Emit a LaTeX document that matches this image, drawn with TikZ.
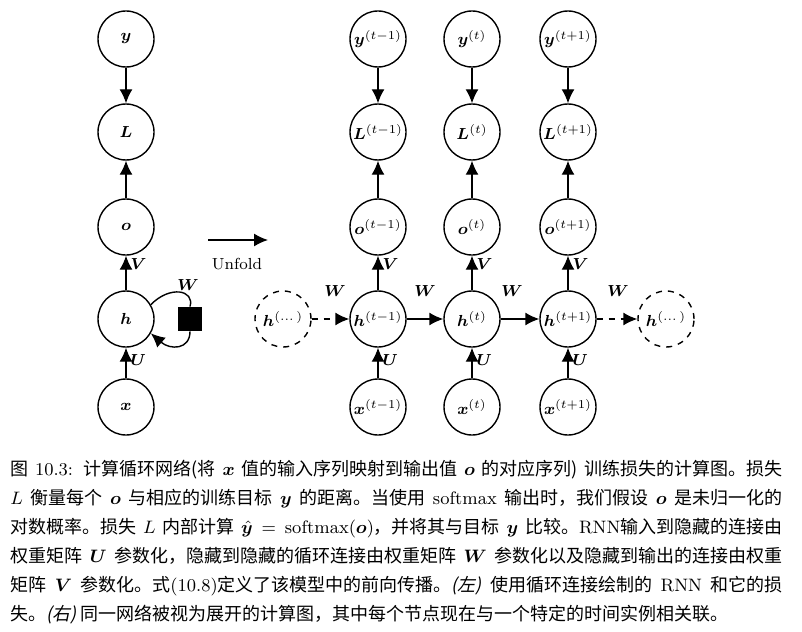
\documentclass[tikz,border=0pt]{standalone}
\usepackage{amsmath,bm}
\usepackage{fontspec}
\newfontfamily\zh{Noto Sans CJK SC}
\newfontfamily\zhit{Noto Sans CJK SC}[FakeSlant=0.2]
\newcommand\lmr[1]{{\fontfamily{lmr}\selectfont #1}}
\newcommand\capline[1]{\makebox[386pt][s]{#1}}
\usetikzlibrary{arrows.meta}
\begin{document}
\begin{tikzpicture}[x=0.5pt,y=-0.5pt,
  nd/.style={circle,draw,line width=0.7pt,minimum size=28pt,inner sep=0pt,font=\footnotesize},
  dnd/.style={nd,dashed},
  ar/.style={line width=0.7pt,-{Latex[length=7pt,width=6.5pt]}},
  lab/.style={font=\small}]
\useasboundingbox (0,0) rectangle (802,631);
% left
\node[nd] (y) at (126,39) {$\bm{y}$};
\node[nd] (L) at (126,132) {$\bm{L}$};
\node[nd] (o) at (126,227) {$\bm{o}$};
\node[nd] (h) at (126,319) {$\bm{h}$};
\node[nd] (x) at (126,407) {$\bm{x}$};
\draw[ar] (y) -- (L);
\draw[ar] (o) -- (L);
\draw[ar] (h) -- node[right,pos=0.75,inner sep=2pt,font=\footnotesize]{$\bm{V}$} (o);
\draw[ar] (x) -- node[right,pos=0.6,inner sep=2pt,font=\footnotesize]{$\bm{U}$} (h);
\node[fill=black,minimum size=12pt,inner sep=0pt] (sq) at (190,319) {};
\draw[line width=0.7pt] (h.30) .. controls (170,285) and (195,290) .. (sq.north);
\draw[ar] (sq.south) .. controls (190,350) and (170,350) .. (h.-30);
\node[font=\footnotesize] at (188,285) {$\bm{W}$};
% unfold
\coordinate (ua) at (208,240); \coordinate (ub) at (268,240);
\draw[ar] (ua) -- (ub);
\node[font=\footnotesize] at (237,264) {Unfold};
% right
\foreach \c/\xx/\s in {a/378/{t-1},b/472/{t},c/568/{t+1}}{
  \node[nd] (y\c) at (\xx,39) {$\bm{y}^{(\s)}$};
  \node[nd] (L\c) at (\xx,132) {$\bm{L}^{(\s)}$};
  \node[nd] (o\c) at (\xx,227) {$\bm{o}^{(\s)}$};
  \node[nd] (h\c) at (\xx,319) {$\bm{h}^{(\s)}$};
  \node[nd] (x\c) at (\xx,407) {$\bm{x}^{(\s)}$};
  \draw[ar] (y\c) -- (L\c);
  \draw[ar] (o\c) -- (L\c);
  \draw[ar] (h\c) -- node[right,pos=0.75,inner sep=2pt,font=\footnotesize]{$\bm{V}$} (o\c);
  \draw[ar] (x\c) -- node[right,pos=0.6,inner sep=2pt,font=\footnotesize]{$\bm{U}$} (h\c);
}
\node[dnd] (hl) at (283,319) {$\bm{h}^{(\dots)}$};
\node[dnd] (hr) at (666,319) {$\bm{h}^{(\dots)}$};
\draw[ar,dashed] (hl) -- (ha);
\draw[ar] (ha) -- (hb);
\draw[ar] (hb) -- (hc);
\draw[ar,dashed] (hc) -- (hr);
\foreach \wx in {335,425,512,618}{\node[font=\footnotesize] at (\wx,291) {$\bm{W}$};}
% caption
\node[anchor=north west,align=left,inner sep=0pt,font=\zh\fontsize{9}{14.5}\selectfont] (cap) at (10,460) {%
\capline{图 \lmr{10.3:} 计算循环网络(将 $\bm{x}$ 值的输入序列映射到输出值 $\bm{o}$ 的对应序列) 训练损失的计算图。损失}\\
\capline{$L$ 衡量每个 $\bm{o}$ 与相应的训练目标 $\bm{y}$ 的距离。当使用 \lmr{softmax} 输出时，我们假设 $\bm{o}$ 是未归一化的}\\
\capline{对数概率。损失 $L$ 内部计算 $\hat{\bm{y}}\!=\!\mathrm{softmax}(\bm{o})$，并将其与目标 $\bm{y}$ 比较。\lmr{RNN}输入到隐藏的连接由}\\
\capline{权重矩阵 $\bm{U}$ 参数化，隐藏到隐藏的循环连接由权重矩阵 $\bm{W}$ 参数化以及隐藏到输出的连接由权重}\\
\capline{矩阵 $\bm{V}$ 参数化。式\lmr{(10.8)}定义了该模型中的前向传播。{\zhit (左)} 使用循环连接绘制的 \lmr{RNN} 和它的损}\\
失。{\zhit (右)} 同一网络被视为展开的计算图，其中每个节点现在与一个特定的时间实例相关联。};
\end{tikzpicture}
\end{document}
